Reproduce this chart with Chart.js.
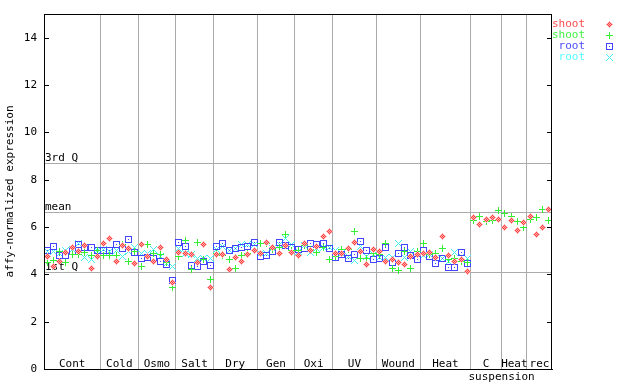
<!DOCTYPE html>
<html>
<head>
<meta charset="utf-8">
<title>affy-normalized expression</title>
<script src="https://cdn.jsdelivr.net/npm/chart.js@4/dist/chart.umd.min.js"></script>
<style>
  html, body { margin: 0; padding: 0; background: #fff; }
  #mycanvas { display: block; }
</style>
</head>
<body>
<canvas id="mycanvas" width="640" height="384"></canvas>
<script>
// groups along the x axis and how many samples each holds
var groupLabels = ['Cont', 'Cold', 'Osmo', 'Salt', 'Dry', 'Gen', 'Oxi', 'UV', 'Wound', 'Heat', 'C suspension', 'Heat', 'rec'];
var groupSizes = [9, 6, 6, 6, 7, 6, 6, 7, 7, 8, 5, 4, 4];

var yTicks = [0, 2, 4, 6, 8, 10, 12, 14];

// quartile / mean reference lines
var refLabels = ['1st Q', 'mean', '3rd Q'];
var refValues = [4.09, 6.63, 8.71];

// series values, one per sample (null = no value)
var shootRed = [
    4.77, 4.31, 4.54, 4.92, 5.15, 4.98, 5.22, 4.26, 4.74,   // Cont
    5.31, 5.53, 4.53, 5.20, 5.10, 4.47,                     // Cold
    5.24, 4.75, 4.53, 5.12, 4.64, 3.65,                     // Osmo
    4.93, 4.88, 4.82, 4.50, 5.24, 3.46,                     // Salt
    4.85, 4.85, 4.22, 4.72, 4.54, 4.85, 5.00,               // Dry
    4.87, 5.35, 5.15, 4.87, 5.20, 4.94,                     // Gen
    4.80, 5.31, 5.00, 5.17, 5.58, 5.80,                     // Oxi
    4.90, 4.90, 5.08, 5.35, 4.97, 4.40, 5.05,               // UV
    4.97, 4.56, 4.62, 4.52, 4.43, 4.76, 4.85,               // Wound
    4.90, 4.94, 4.70, 5.58, 4.80, 4.56, 4.62, 4.14,         // Heat
    6.42, 6.12, 6.32, 6.39, 6.30,                           // C suspension
    5.96, 6.26, 5.84, 6.18,                                 // Heat
    6.43, 5.70, 5.96, 6.72                                  // rec
];
var shootGreen = [
    4.52, 4.59, 4.97, 4.50, 4.84, 4.82, 4.93, 4.78, 5.00,
    4.81, 4.81, 4.78, 5.25, 4.55, 4.95,
    4.33, 5.24, 4.88, 4.83, 4.50, 3.46,
    4.74, 5.41, 4.19, 5.36, 4.62, 3.77,
    4.86, 4.78, 4.64, 4.26, 4.78, 4.87, 5.00,
    5.31, 5.32, 5.05, 5.12, 5.70, 5.00,
    5.00, 5.23, 5.05, 4.94, 5.15, 4.64,
    4.75, 5.05, 5.05, 5.79, 4.65, 4.65, 4.90,
    4.85, 5.32, 4.26, 4.18, 4.95, 4.26, 4.95,
    5.30, 4.85, 4.90, 5.10, 4.62, 4.69, 4.55, 4.52,
    6.27, 6.46, 6.24, 6.26, 6.69,
    6.59, 6.44, 6.24, 5.97,
    6.33, 6.41, 6.73, 6.27
];
var rootBlue = [
    5.01, 5.16, 4.78, 4.80, 4.97, 5.28, 5.14, 5.12, 4.99,
    5.00, 5.00, 5.28, 5.08, 5.49, 4.94,
    4.68, 4.72, 4.68, 4.53, 4.43, 3.73,
    5.36, 5.19, 4.39, 4.31, 4.56, 4.39,
    5.18, 5.30, 5.00, 5.08, 5.12, 5.18, 5.35,
    4.76, 4.78, 4.97, 5.35, 5.21, 5.12,
    5.04, 5.08, 5.32, 5.24, 5.32, 5.10,
    4.73, 4.84, 4.65, 4.84, 5.38, 5.00, 4.61,
    4.69, 5.15, 4.51, 4.87, 5.15, 4.81, 4.61,
    5.01, 4.76, 4.45, 4.69, 4.28, 4.30, 4.94, 4.45,
    null, null, null, null, null,
    null, null, null, null,
    null, null, null, null
];
var rootCyan = [
    4.98, 4.97, 4.88, 5.01, 5.04, 5.30, 4.70, 4.64, 5.00,
    5.05, 4.95, 5.00, 4.74, 4.97, 5.15,
    4.90, 4.88, 5.04, 4.75, 4.45, 4.33,
    5.08, 4.86, 4.82, 4.68, 4.67, 4.68,
    5.05, 5.18, 5.02, 5.10, 5.28, 5.25, 5.28,
    4.87, 4.87, 5.10, 5.28, 5.53, 5.24,
    4.95, 5.20, 4.94, 5.10, 5.15, 5.12,
    5.00, 4.90, 4.75, 4.60, 5.18, 4.75, 4.82,
    4.73, 4.70, 4.73, 5.29, 4.73, 4.95, 4.90,
    4.80, 4.85, 4.66, 4.68, 4.56, 4.94, 4.74, 4.69,
    null, null, null, null, null,
    null, null, null, null,
    null, null, null, null
];

var FONT = 'DejaVu Sans Mono';
var nSamples = groupSizes.reduce(function(a, b) { return a + b; }, 0);

// group boundaries in sample units (samples sit at 1..n)
var bounds = [0.5];
groupSizes.forEach(function(s) { bounds.push(bounds[bounds.length - 1] + s); });

// small pixel markers like the original plot
function makeMarker(kind, color, light) {
    var c = document.createElement('canvas');
    c.width = 7; c.height = 7;
    var g = c.getContext('2d');
    for (var dy = -3; dy <= 3; dy++) {
        for (var dx = -3; dx <= 3; dx++) {
            var col = null;
            if (kind === 'diamond' && Math.abs(dx) + Math.abs(dy) <= 3) {
                col = (dx + dy) % 2 === 0 ? color : light;
            }
            if (kind === 'plus' && (dx === 0 || dy === 0)) col = color;
            if (kind === 'square' && (Math.abs(dx) === 3 || Math.abs(dy) === 3 || (dx === 0 && dy === 0))) col = color;
            if (kind === 'cross' && Math.abs(dx) === Math.abs(dy)) col = color;
            if (col) {
                g.fillStyle = col;
                g.fillRect(dx + 3, dy + 3, 1, 1);
            }
        }
    }
    return c;
}

function toPoints(arr) {
    var pts = [];
    for (var i = 0; i < arr.length; i++) {
        if (arr[i] !== null) pts.push({ x: i + 1, y: arr[i] });
    }
    return pts;
}

var series = [
    { label: 'shoot', color: '#ff4d4d', marker: makeMarker('diamond', '#ff4040', '#ffb0b0'), values: shootRed },
    { label: 'shoot', color: '#44f044', marker: makeMarker('plus', '#33ee33'), values: shootGreen },
    { label: 'root', color: '#4d4dff', marker: makeMarker('square', '#4444ff'), values: rootBlue },
    { label: 'root', color: '#55ffff', marker: makeMarker('cross', '#44eeee'), values: rootCyan }
];

var extras = {
    id: 'extras',
    beforeDraw: function(chart) {
        chart.ctx.imageSmoothingEnabled = false;
    },
    beforeDatasetsDraw: function(chart) {
        var ctx = chart.ctx, a = chart.chartArea, y = chart.scales.y;
        ctx.save();
        ctx.strokeStyle = '#aaaaaa';
        ctx.lineWidth = 1;
        ctx.fillStyle = '#000';
        ctx.font = '11px ' + FONT;
        ctx.textAlign = 'left';
        ctx.textBaseline = 'bottom';
        refValues.forEach(function(v, i) {
            var py = Math.round(y.getPixelForValue(v)) + 0.5;
            ctx.beginPath();
            ctx.moveTo(a.left, py);
            ctx.lineTo(a.right, py);
            ctx.stroke();
            ctx.fillText(refLabels[i], a.left + 1, py);
        });
        ctx.restore();
    },
    afterDraw: function(chart) {
        var ctx = chart.ctx, a = chart.chartArea, x = chart.scales.x, y = chart.scales.y;
        ctx.save();
        // frame
        ctx.strokeStyle = '#000';
        ctx.lineWidth = 1;
        ctx.strokeRect(a.left + 0.5, a.top + 0.5, a.right - a.left - 1, a.bottom - a.top);
        // inner tick marks on both sides
        ctx.beginPath();
        yTicks.forEach(function(v) {
            var py = Math.round(y.getPixelForValue(v)) + 0.5;
            ctx.moveTo(a.left, py); ctx.lineTo(a.left + 5, py);
            ctx.moveTo(a.right - 5, py); ctx.lineTo(a.right, py);
        });
        ctx.stroke();
        // group labels
        ctx.fillStyle = '#000';
        ctx.font = '11px ' + FONT;
        ctx.textBaseline = 'middle';
        groupLabels.forEach(function(lab, i) {
            var x0 = x.getPixelForValue(bounds[i]);
            var x1 = x.getPixelForValue(bounds[i + 1]);
            var parts = lab.split(' ');
            ctx.textAlign = 'center';
            ctx.fillText(parts[0], (x0 + x1) / 2, a.bottom - 5);
            if (parts.length > 1) {
                ctx.textAlign = 'left';
                ctx.fillText(parts.slice(1).join(' '), x0 - 2, a.bottom + 8);
            }
        });
        // legend
        series.forEach(function(s, i) {
            var ly = 24 + i * 11;
            ctx.fillStyle = s.color;
            ctx.textAlign = 'right';
            ctx.fillText(s.label, 585, ly);
            ctx.drawImage(s.marker, 606, ly - 3);
        });
        ctx.restore();
    }
};

var ctx = document.getElementById('mycanvas');
var chart = new Chart(ctx, {
    type: 'scatter',
    data: {
        datasets: series.map(function(s) {
            return {
                label: s.label,
                data: toPoints(s.values),
                pointStyle: s.marker,
                pointRadius: 3,
                borderColor: s.color,
                backgroundColor: s.color
            };
        })
    },
    options: {
        responsive: false,
        devicePixelRatio: 1,
        animation: false,
        layout: { padding: { top: 14, right: 88, bottom: 15, left: 0 } },
        plugins: {
            legend: { display: false },
            tooltip: { enabled: false }
        },
        scales: {
            x: {
                type: 'linear',
                min: 0.5,
                max: nSamples + 0.5,
                afterBuildTicks: function(scale) {
                    scale.ticks = bounds.slice(1, -1).map(function(v) { return { value: v }; });
                },
                afterFit: function(scale) { scale.height = 0; },
                ticks: { display: false },
                grid: { color: '#aaaaaa', lineWidth: 1, drawTicks: false },
                border: { display: true, color: '#000' }
            },
            y: {
                min: 0,
                max: 15,
                afterBuildTicks: function(scale) {
                    scale.ticks = yTicks.map(function(v) { return { value: v }; });
                },
                afterFit: function(scale) { scale.width = 44; },
                ticks: {
                    color: '#000',
                    padding: 7,
                    font: { family: FONT, size: 11 }
                },
                grid: { drawOnChartArea: false, drawTicks: false },
                border: { display: true, color: '#000' },
                title: {
                    display: true,
                    text: 'affy-normalized expression',
                    color: '#000',
                    font: { family: FONT, size: 11 }
                }
            }
        }
    },
    plugins: [extras]
});
</script>
</body>
</html>
